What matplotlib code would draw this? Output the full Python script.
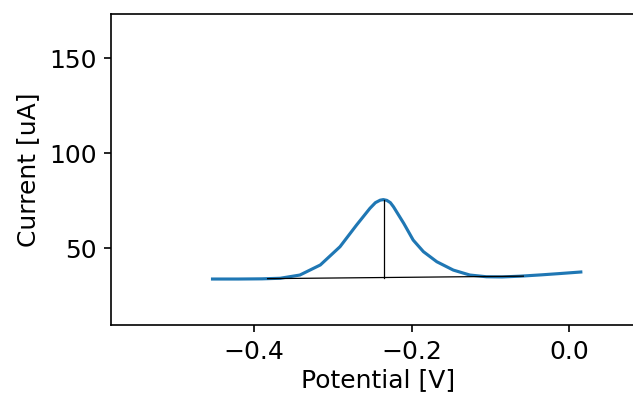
import matplotlib
matplotlib.use("Agg")
import matplotlib.pyplot as plt

potential = [-0.453, -0.420, -0.390, -0.367, -0.342, -0.316, -0.291, -0.270, -0.253,
             -0.246, -0.240, -0.236, -0.2315, -0.227, -0.223, -0.210, -0.198, -0.185, -0.168,
             -0.147, -0.126, -0.105, -0.085, -0.062, -0.035, -0.011, 0.015]
current = [33.7, 33.7, 33.8, 34.1, 35.8, 41.1, 50.7, 62.1, 70.9,
           73.9, 75.2, 75.5, 75.1, 73.9, 71.7, 63.0, 54.2, 48.1, 42.8,
           38.4, 35.8, 34.9, 34.8, 35.2, 35.9, 36.6, 37.4]

baseline_x = [-0.383, -0.058]
baseline_y = [33.9, 35.2]
peak_x = -0.235
peak_base = 34.5
peak_top = 75.5

plt.rcParams["font.size"] = 12
fig = plt.figure(figsize=(633/150, 396/150), dpi=150)
ax = fig.add_axes([111/633, 71/396, 1.02 - 111/633, 311/396])
ax.plot(potential, current, color="#1f77b4", lw=1.5)
ax.plot(baseline_x, baseline_y, color="black", lw=0.6)
ax.plot([peak_x, peak_x], [peak_base, peak_top], color="black", lw=0.6)
ax.set_xlim(-0.582, 0.0974)
ax.set_ylim(9.5, 173.2)
ax.set_xticks([-0.4, -0.2, 0.0])
ax.set_yticks([50, 100, 150])
ax.set_xlabel("Potential [V]", labelpad=2)
ax.set_ylabel("Current [uA]")
fig.savefig("out.png", dpi=150)
